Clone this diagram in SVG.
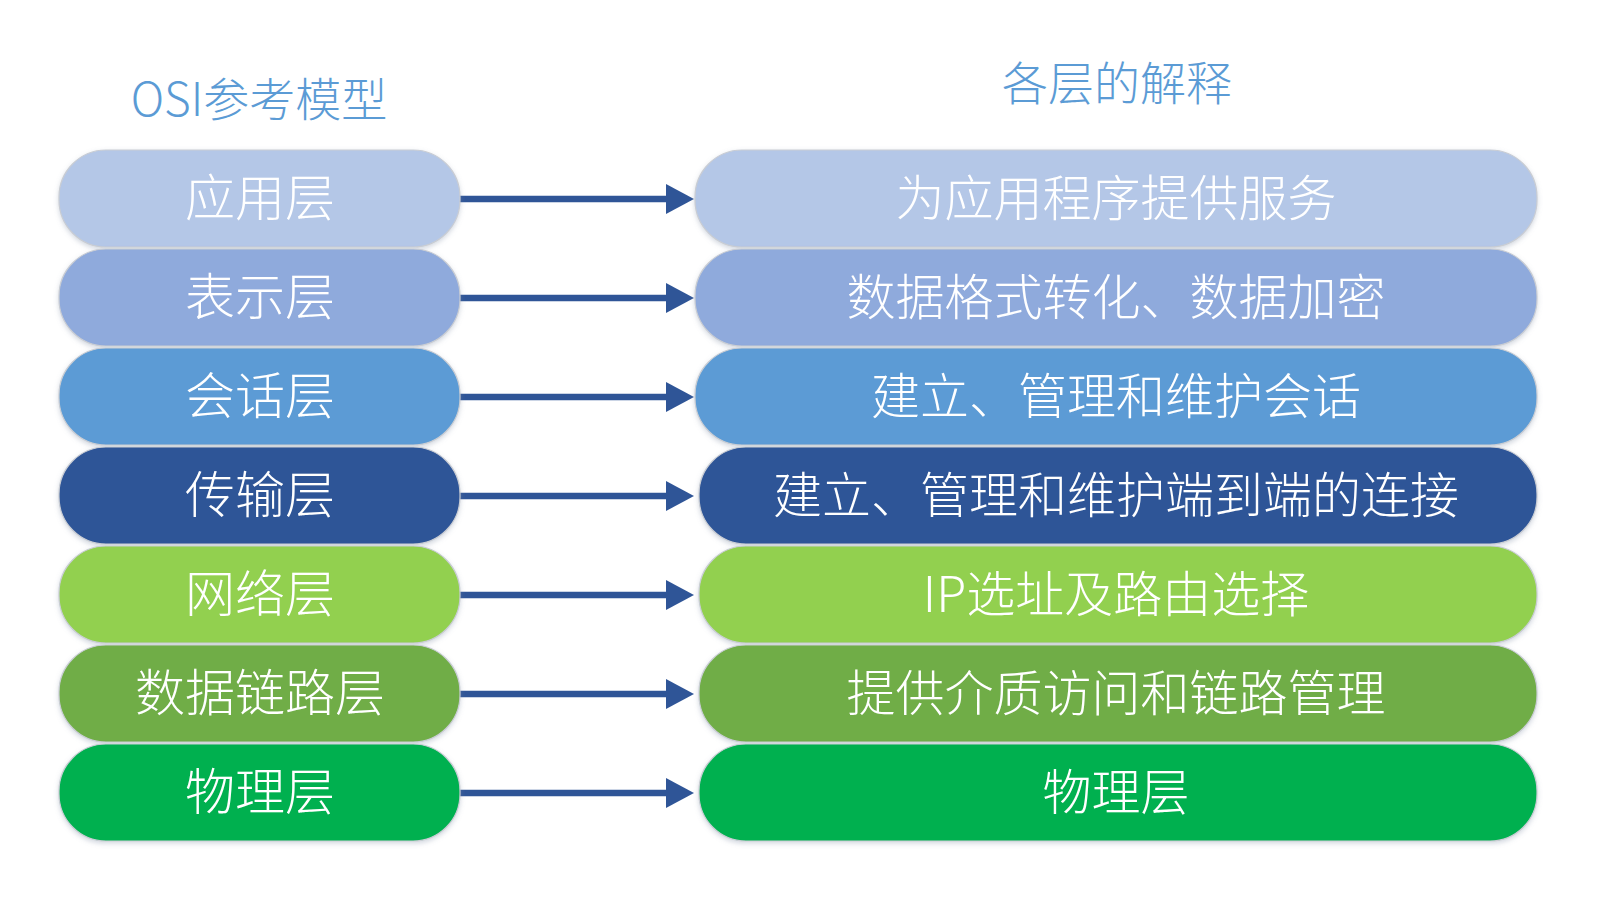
<svg xmlns="http://www.w3.org/2000/svg" width="1609" height="897" viewBox="0 0 1609 897">
<defs>
<style>
.title{font-family:"Noto Sans CJK SC","Liberation Sans",sans-serif;font-size:46px;fill:#5B9BD5;text-anchor:middle;dominant-baseline:central;font-weight:300}
.lbl{font-family:"Noto Sans CJK SC","Liberation Sans",sans-serif;font-size:50px;fill:#FFFFFF;text-anchor:middle;dominant-baseline:central;font-weight:300}
.rl{font-size:49px}
.box{stroke:#C9CDD4;stroke-width:1.2;filter:url(#sh)}
.conn{stroke:#2F5597;stroke-width:6.5;fill:none;marker-end:url(#ah)}
</style>
<filter id="sh" x="-5%" y="-10%" width="110%" height="125%">
<feDropShadow dx="0" dy="2" stdDeviation="2.5" flood-color="#7f8fa6" flood-opacity="0.35"/>
</filter>
<marker id="ah" markerUnits="userSpaceOnUse" markerWidth="28" markerHeight="30" refX="2" refY="15" orient="auto" viewBox="0 0 28 30">
<path d="M0,0 L28,15 L0,30 Z" fill="#2F5597"/>
</marker>
</defs>
<rect width="1609" height="897" fill="#FFFFFF"/>
<text class="title" x="259" y="96">OSI参考模型</text>
<text class="title" x="1117" y="80">各层的解释</text>

<g id="connectors">
<line class="conn" x1="458" y1="199" x2="668" y2="199"/>
<line class="conn" x1="458" y1="298" x2="668" y2="298"/>
<line class="conn" x1="458" y1="397" x2="668" y2="397"/>
<line class="conn" x1="458" y1="496" x2="668" y2="496"/>
<line class="conn" x1="458" y1="595" x2="668" y2="595"/>
<line class="conn" x1="458" y1="694" x2="668" y2="694"/>
<line class="conn" x1="458" y1="793" x2="668" y2="793"/>
</g>

<g id="osi-application"><rect class="box" x="59" y="150" width="401" height="97" rx="47" fill="#B4C7E7"/><text class="lbl" x="260" y="194">应用层</text></g>
<g id="desc-application"><rect class="box" x="695" y="150" width="842" height="97" rx="47" fill="#B4C7E7"/><text class="lbl rl" x="1116" y="194">为应用程序提供服务</text></g>

<g id="osi-presentation"><rect class="box" x="59" y="249" width="401" height="97" rx="47" fill="#8FAADC"/><text class="lbl" x="260" y="293">表示层</text></g>
<g id="desc-presentation"><rect class="box" x="695" y="249" width="842" height="97" rx="47" fill="#8FAADC"/><text class="lbl rl" x="1116" y="293">数据格式转化、数据加密</text></g>

<g id="osi-session"><rect class="box" x="59" y="348" width="401" height="97" rx="47" fill="#5B9BD5"/><text class="lbl" x="260" y="392">会话层</text></g>
<g id="desc-session"><rect class="box" x="695" y="348" width="842" height="97" rx="47" fill="#5B9BD5"/><text class="lbl rl" x="1116" y="392">建立、管理和维护会话</text></g>

<g id="osi-transport"><rect class="box" x="59" y="447" width="401" height="97" rx="47" fill="#2F5597"/><text class="lbl" x="260" y="491">传输层</text></g>
<g id="desc-transport"><rect class="box" x="699" y="447" width="838" height="97" rx="47" fill="#2F5597"/><text class="lbl rl" x="1116" y="491">建立、管理和维护端到端的连接</text></g>

<g id="osi-network"><rect class="box" x="59" y="546" width="401" height="97" rx="47" fill="#92D050"/><text class="lbl" x="260" y="590">网络层</text></g>
<g id="desc-network"><rect class="box" x="699" y="546" width="838" height="97" rx="47" fill="#92D050"/><text class="lbl rl" x="1116" y="590">IP选址及路由选择</text></g>

<g id="osi-datalink"><rect class="box" x="59" y="645" width="401" height="97" rx="47" fill="#70AD47"/><text class="lbl" x="260" y="689">数据链路层</text></g>
<g id="desc-datalink"><rect class="box" x="699" y="645" width="838" height="97" rx="47" fill="#70AD47"/><text class="lbl rl" x="1116" y="689">提供介质访问和链路管理</text></g>

<g id="osi-physical"><rect class="box" x="59" y="744" width="401" height="97" rx="47" fill="#00B050"/><text class="lbl" x="260" y="788">物理层</text></g>
<g id="desc-physical"><rect class="box" x="699" y="744" width="838" height="97" rx="47" fill="#00B050"/><text class="lbl rl" x="1116" y="788">物理层</text></g>
</svg>
